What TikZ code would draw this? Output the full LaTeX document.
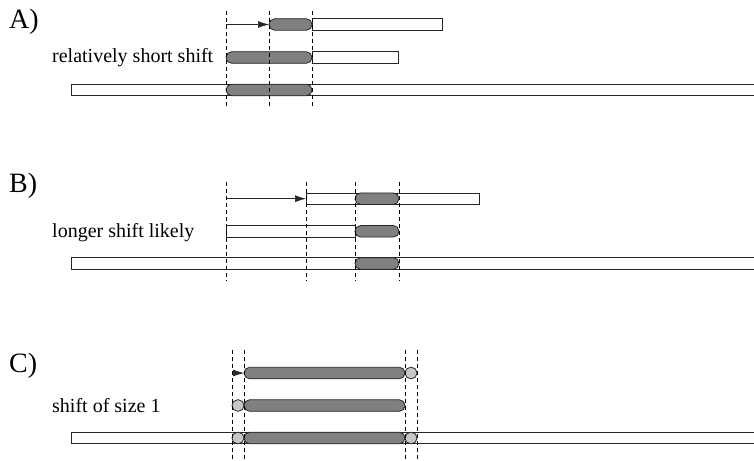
\documentclass[tikz,border=0pt]{standalone}
\usepackage{fontspec}
\setmainfont{Liberation Serif}
\usetikzlibrary{arrows.meta}
\begin{document}
\begin{tikzpicture}[x=1pt,y=-1pt,
  barbase/.style={draw=black!85, line width=0.8pt, inner sep=0pt, outer sep=0pt, minimum height=11.5pt, anchor=west},
  wbar/.style={barbase, fill=white},
  gbar/.style={barbase, fill=black!50, rounded corners=5.6pt},
  lbar/.style={barbase, fill=black!22, rounded corners=5.6pt, minimum width=12pt},
  dashline/.style={draw=black, line width=0.7pt, dash pattern=on 4pt off 3pt},
  arr/.style={draw=black!85, line width=0.7pt, -{Latex[length=11pt,width=7pt]}},
  biglabel/.style={font=\fontsize{28}{28}\selectfont, anchor=west, inner sep=0pt},
  txtlabel/.style={font=\fontsize{20}{20}\selectfont, anchor=west, inner sep=0pt}]
\useasboundingbox (0,0) rectangle (754,460);

% ---------- A ----------
\node[biglabel] (la) at (9,22) {A)};
\node[txtlabel] (ta) at (52,58) {relatively short shift};
\node[wbar, minimum width=130pt] (a1w) at (312,24.5) {};
\node[gbar, minimum width=43pt] (a1g) at (269,24.5) {};
\coordinate (a1s) at (226,24.5);
\draw[arr] (a1s) -- (a1g.west);
\node[wbar, minimum width=86pt] (a2w) at (312,57.5) {};
\node[gbar, minimum width=86pt] (a2g) at (226,57.5) {};
\node[wbar, minimum width=700pt] (a3w) at (71,90) {};
\node[gbar, minimum width=86pt] (a3g) at (226,90) {};
\foreach \x in {226,269,312} \draw[dashline] (\x,11) -- (\x,108);

% ---------- B ----------
\node[biglabel] (lb) at (9,186) {B)};
\node[txtlabel] (tb) at (52,233) {longer shift likely};
\node[wbar, minimum width=173pt] (b1w) at (306,198.7) {};
\node[gbar, minimum width=44pt] (b1g) at (355,198.7) {};
\coordinate (b1s) at (226,198.7);
\draw[arr] (b1s) -- (b1w.west);
\node[wbar, minimum width=129pt] (b2w) at (226,231.3) {};
\node[gbar, minimum width=44pt] (b2g) at (355,231.3) {};
\node[wbar, minimum width=700pt] (b3w) at (71,263.5) {};
\node[gbar, minimum width=44pt] (b3g) at (355,263.5) {};
\foreach \x in {226,306,355,399} \draw[dashline] (\x,182) -- (\x,281);

% ---------- C ----------
\node[biglabel] (lc) at (9,366) {C)};
\node[txtlabel] (tc) at (52,406) {shift of size 1};
\node[gbar, minimum width=161pt] (c1g) at (244,373) {};
\node[lbar] (c1l) at (405,373) {};
\coordinate (c1s) at (232,373);
\draw[arr] (c1s) -- (c1g.west);
\node[lbar] (c2l) at (232,405.5) {};
\node[gbar, minimum width=161pt] (c2g) at (244,405.5) {};
\node[wbar, minimum width=700pt] (c3w) at (71,438) {};
\node[lbar] (c3a) at (232,438) {};
\node[gbar, minimum width=161pt] (c3g) at (244,438) {};
\node[lbar] (c3b) at (405,438) {};
\foreach \x in {232,244,405,417} \draw[dashline] (\x,350) -- (\x,460);
\end{tikzpicture}
\end{document}
